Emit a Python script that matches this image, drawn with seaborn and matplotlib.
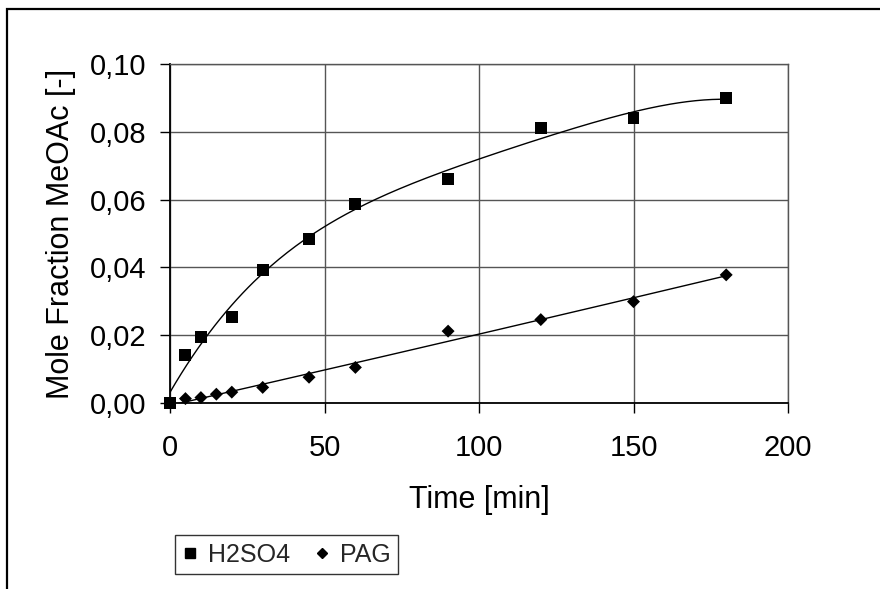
import numpy as np
import pandas as pd
import seaborn as sns
import matplotlib
matplotlib.use("Agg")
from matplotlib import pyplot as plt
from matplotlib.lines import Line2D
from matplotlib.patches import Rectangle
from matplotlib.ticker import FuncFormatter

# data
time_h2so4 = [0, 5, 10, 20, 30, 45, 60, 90, 120, 150, 180]
frac_h2so4 = [0.0000, 0.0142, 0.0195, 0.0254, 0.0392, 0.0484, 0.0587, 0.0661, 0.0811, 0.0841, 0.0900]
time_pag = [5, 10, 15, 20, 30, 45, 60, 90, 120, 150, 180]
frac_pag = [0.0013, 0.0016, 0.0026, 0.0032, 0.0046, 0.0076, 0.0105, 0.0212, 0.0246, 0.0299, 0.0378]
series_names = ["H2SO4", "PAG"]

sns.set_theme(style="white")
plt.rcParams['font.family'] = ['Liberation Sans', 'DejaVu Sans']

fig = plt.figure(figsize=(8.8, 5.89), dpi=100)
ax = fig.add_axes([170/880, 1-403/589, 618/880, 339/589])

df1 = pd.DataFrame({"t": time_h2so4, "x": frac_h2so4})
df2 = pd.DataFrame({"t": time_pag, "x": frac_pag})

# trendlines (polynomial, like excel)
tt = np.linspace(0, 180, 200)
fit1 = pd.DataFrame({"t": tt, "x": np.polyval(np.polyfit(time_h2so4, frac_h2so4, 4), tt)})
fit2 = pd.DataFrame({"t": tt, "x": np.polyval(np.polyfit(time_pag, frac_pag, 2), tt)})
sns.lineplot(data=fit1, x="t", y="x", ax=ax, color="black", lw=1, zorder=3)
sns.lineplot(data=fit2, x="t", y="x", ax=ax, color="black", lw=1, zorder=3)

sns.scatterplot(data=df1, x="t", y="x", ax=ax, marker="s", s=8.6**2, color="black",
                edgecolor="none", zorder=4, clip_on=False)
sns.scatterplot(data=df2, x="t", y="x", ax=ax, marker="D", s=6.6**2, color="black",
                edgecolor="none", zorder=4, clip_on=False)

ax.set_xlim(0, 200)
ax.set_ylim(0, 0.10)
ax.set_xticks([0, 50, 100, 150, 200])
ax.set_yticks([0, 0.02, 0.04, 0.06, 0.08, 0.10])
ax.yaxis.set_major_formatter(FuncFormatter(lambda v, p: f"{v:.2f}".replace('.', ',')))
ax.grid(True, color="#555555", lw=1)
ax.set_axisbelow(True)

for s in ["top", "right"]:
    ax.spines[s].set_color("#555555")
    ax.spines[s].set_linewidth(1)
for s in ["left", "bottom"]:
    ax.spines[s].set_color("black")
    ax.spines[s].set_linewidth(1.3)

ax.tick_params(axis="both", direction="out", length=7, width=1, color="black",
               labelsize=21, labelcolor="black")
ax.tick_params(axis="x", pad=15, bottom=True)
ax.tick_params(axis="y", pad=10, left=True)

ax.set_xlabel("Time [min]", fontsize=22, labelpad=17, color="black")
ax.set_ylabel("Mole Fraction MeOAc [-]", fontsize=22, labelpad=10, color="black")

handles = [Line2D([], [], ls="none", marker="s", ms=7, color="black"),
           Line2D([], [], ls="none", marker="D", ms=5.5, color="black")]
leg = fig.legend(handles, series_names, loc="lower left", bbox_to_anchor=(175/880, 15/589),
                 ncol=2, fontsize=18, frameon=True, fancybox=False, borderpad=0.3,
                 handlelength=0.6, handletextpad=0.4, columnspacing=1.0, borderaxespad=0)
leg.get_frame().set_edgecolor("black")
leg.get_frame().set_linewidth(1)

# chart border (cut off at right and bottom)
fig.patches.append(Rectangle((6.5/880, -0.2), 2, 1.2 - 9/589, transform=fig.transFigure,
                             fill=False, edgecolor="black", lw=1.6))

fig.savefig("out.png", dpi=100)
plt.close(fig)
